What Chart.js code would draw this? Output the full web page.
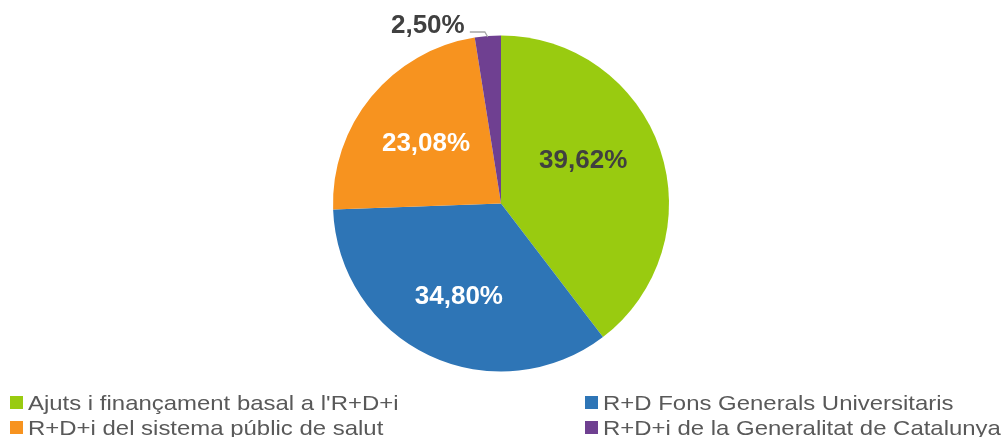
<!DOCTYPE html>
<html>
<head>
<meta charset="utf-8">
<script src="https://cdn.jsdelivr.net/npm/chart.js@4/dist/chart.umd.min.js"></script>
<style>
  html, body { margin: 0; padding: 0; background: #fff; }
  #wrap { position: relative; width: 1004px; height: 437px; }
  #pieChart { position: absolute; left: 0; top: 0; }
  .leg { position: absolute; font-family: "Liberation Sans", Arial, sans-serif; font-size: 21px;
         color: #595959; white-space: nowrap; line-height: 25px; }
  .leg i { position: absolute; left: 0; top: 6px; width: 13px; height: 13px; }
  .leg span { position: absolute; left: 18px; top: 0; display: inline-block; transform-origin: 0 50%; transform: scaleX(1.14); }
</style>
</head>
<body>
<div id="wrap">
  <canvas id="pieChart" width="1004" height="437"></canvas>
  <div id="legend"></div>
</div>
<script>
// data
const categories = [
  "Ajuts i finançament basal a l'R+D+i",
  "R+D Fons Generals Universitaris",
  "R+D+i del sistema públic de salut",
  "R+D+i de la Generalitat de Catalunya"
];
const shares = [39.62, 34.80, 23.08, 2.50];
const colors = ['#99CB10', '#2E75B6', '#F7931F', '#6F4091'];
const labelColors = ['#404040', '#ffffff', '#ffffff', '#404040'];

// label placement: angle shift (deg) and radius fraction per slice
const labelShift = [-8.5, -1, -1, 0];
const labelRadius = [0.55, 0.61, 0.57, 0];

const fmt = v => v.toFixed(2).replace('.', ',') + '%';

const pieLabels = {
  id: 'pieLabels',
  afterDatasetsDraw(chart) {
    const ctx = chart.ctx;
    const meta = chart.getDatasetMeta(0);
    ctx.save();
    ctx.font = 'bold 26px "Liberation Sans", Arial, sans-serif';
    ctx.textAlign = 'center';
    ctx.textBaseline = 'middle';
    meta.data.forEach((arc, i) => {
      const { x, y, startAngle, endAngle, outerRadius } = arc.getProps(['x','y','startAngle','endAngle','outerRadius'], true);
      const mid = (startAngle + endAngle) / 2;
      let lx, ly;
      if (labelRadius[i] > 0) {
        const a = mid + labelShift[i] * Math.PI / 180;
        lx = x + Math.cos(a) * outerRadius * labelRadius[i];
        ly = y + Math.sin(a) * outerRadius * labelRadius[i];
      } else {
        // small slice: label outside with leader line
        const ex = x + Math.cos(mid) * outerRadius;
        const ey = y + Math.sin(mid) * outerRadius;
        ctx.strokeStyle = '#A6A6A6';
        ctx.lineWidth = 1.3;
        ctx.beginPath();
        ctx.moveTo(ex, ey + 1);
        ctx.lineTo(ex - 3, ey - 4);
        ctx.lineTo(ex - 18, ey - 4);
        ctx.stroke();
        lx = ex - 60;
        ly = ey - 10;
      }
      ctx.fillStyle = labelColors[i];
      ctx.fillText(fmt(shares[i]), lx, ly);
    });
    ctx.restore();
  }
};

new Chart(document.getElementById('pieChart'), {
  type: 'pie',
  data: {
    labels: categories,
    datasets: [{ data: shares, backgroundColor: colors, borderWidth: 0 }]
  },
  options: {
    responsive: false,
    animation: false,
    layout: { padding: { left: 333, right: 335, top: 35.5, bottom: 65.5 } },
    plugins: { legend: { display: false }, tooltip: { enabled: false } }
  },
  plugins: [pieLabels]
});

// legend, two columns
const legPos = [[10, 390], [585, 390], [10, 415], [585, 415]];
const legend = document.getElementById('legend');
categories.forEach((name, k) => {
  const d = document.createElement('div');
  d.className = 'leg';
  d.style.left = legPos[k][0] + 'px';
  d.style.top = legPos[k][1] + 'px';
  d.innerHTML = '<i style="background:' + colors[k] + '"></i><span></span>';
  d.querySelector('span').textContent = name;
  legend.appendChild(d);
});
</script>
</body>
</html>
